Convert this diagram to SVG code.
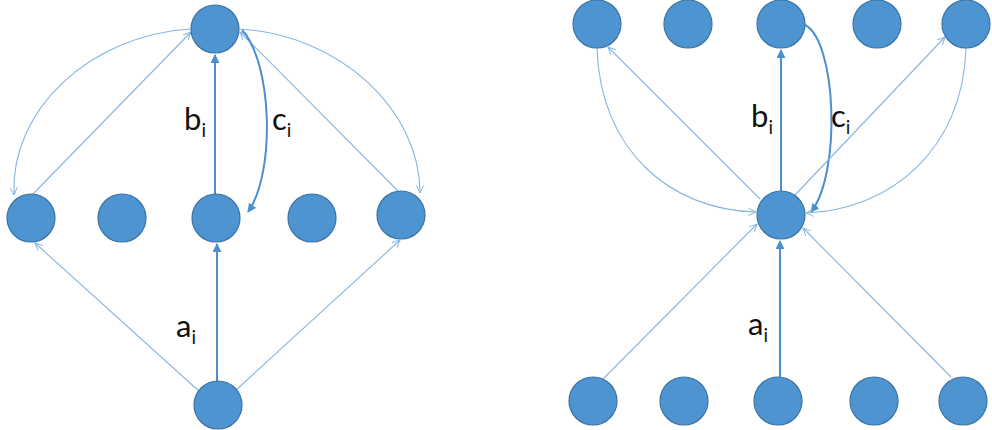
<svg xmlns="http://www.w3.org/2000/svg" width="992" height="430" viewBox="0 0 992 430">
<style>
.node{fill:#4d94d0;stroke:#3b73a5;stroke-width:1.2}
.thick{fill:none;stroke:#4a90d0;stroke-width:2;marker-end:url(#fa)}
.thin{fill:none;stroke:#86b5e2;stroke-width:1.1;marker-end:url(#oa)}
.lbl{font-family:Lato,"Open Sans",sans-serif;font-size:31px;fill:#111}
.sub{font-size:19px}
</style>
<defs>
<marker id="fa" viewBox="0 0 10 10" refX="9" refY="5" markerWidth="9" markerHeight="9" markerUnits="userSpaceOnUse" orient="auto">
<path d="M0,0 L10,5 L0,10 z" fill="#4a90d0"/>
</marker>
<marker id="oa" viewBox="0 0 10 10" refX="9.5" refY="5" markerWidth="8" markerHeight="8" markerUnits="userSpaceOnUse" orient="auto">
<path d="M0,0.5 L9.5,5 L0,9.5" fill="none" stroke="#86b5e2" stroke-width="1.2"/>
</marker>
</defs>
<g id="connectors">
<path class="thick" d="M217,381 L217,244"/>
<path class="thick" d="M215,194 L215,55"/>
<path class="thin" d="M200,392 L35,243"/>
<path class="thin" d="M236,390 L400,240"/>
<path class="thin" d="M33,194 L191,32"/>
<path class="thin" d="M398,191 L240,32"/>
<path class="thin" d="M191,29 C90,35 10,110 14,195"/>
<path class="thin" d="M240,29 C340,35 420,110 420,193"/>
<path class="thick" d="M242,30 C272,62 276,172 248,212"/>
<path class="thick" d="M780,377 L780,241"/>
<path class="thick" d="M781,191 L781,50"/>
<path class="thick" d="M805,25 C836,40 842,172 811,212"/>
<path class="thin" d="M603,379 L757,224"/>
<path class="thin" d="M951,377 L803,228"/>
<path class="thin" d="M760,199 L608,47"/>
<path class="thin" d="M795,195 L945,37"/>
<path class="thin" d="M597,48 C600,150 670,210 756,212"/>
<path class="thin" d="M966,48 C963,150 890,210 806,213"/>
</g>
<g id="L-top"><circle class="node" cx="215" cy="29" r="24"/></g>
<g id="L-m1"><circle class="node" cx="31" cy="218" r="24"/></g>
<g id="L-m2"><circle class="node" cx="122" cy="218" r="24"/></g>
<g id="L-m3"><circle class="node" cx="216" cy="218" r="24"/></g>
<g id="L-m4"><circle class="node" cx="312" cy="218" r="24"/></g>
<g id="L-m5"><circle class="node" cx="401" cy="215" r="24"/></g>
<g id="L-bot"><circle class="node" cx="218" cy="405" r="24"/></g>
<g id="R-t1"><circle class="node" cx="597" cy="24" r="24"/></g>
<g id="R-t2"><circle class="node" cx="688" cy="24" r="24"/></g>
<g id="R-t3"><circle class="node" cx="781" cy="24" r="24"/></g>
<g id="R-t4"><circle class="node" cx="877" cy="24" r="24"/></g>
<g id="R-t5"><circle class="node" cx="966" cy="24" r="24"/></g>
<g id="R-mid"><circle class="node" cx="781" cy="215" r="24"/></g>
<g id="R-b1"><circle class="node" cx="593" cy="401" r="24"/></g>
<g id="R-b2"><circle class="node" cx="684" cy="401" r="24"/></g>
<g id="R-b3"><circle class="node" cx="778" cy="401" r="24"/></g>
<g id="R-b4"><circle class="node" cx="874" cy="401" r="24"/></g>
<g id="R-b5"><circle class="node" cx="963" cy="401" r="24"/></g>
<g id="labels">
<text class="lbl" x="184" y="130">b<tspan class="sub" dy="7">i</tspan></text>
<text class="lbl" x="272" y="130">c<tspan class="sub" dy="7">i</tspan></text>
<text class="lbl" x="176" y="337">a<tspan class="sub" dy="7">i</tspan></text>
<text class="lbl" x="751" y="127">b<tspan class="sub" dy="7">i</tspan></text>
<text class="lbl" x="831" y="127">c<tspan class="sub" dy="7">i</tspan></text>
<text class="lbl" x="748" y="335">a<tspan class="sub" dy="7">i</tspan></text>
</g>
</svg>
